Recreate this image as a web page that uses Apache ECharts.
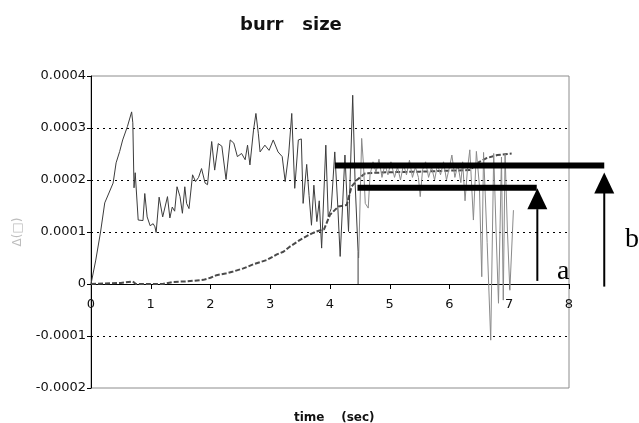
<!DOCTYPE html>
<html>
<head>
<meta charset="utf-8">
<script src="https://cdn.jsdelivr.net/npm/echarts@6/dist/echarts.min.js"></script>
<style>
  html, body { margin: 0; padding: 0; background: #fff; }
  #chart { width: 639px; height: 423px; }
</style>
</head>
<body>
<div id="chart"></div>
<script>
// measured burr signal, first pass (t sec, size)
const burrDark = [
  [0, 0], [0.08, 0.46e-4], [0.16, 1.0e-4], [0.23, 1.56e-4], [0.30, 1.75e-4], [0.37, 1.94e-4],
  [0.42, 2.33e-4], [0.48, 2.55e-4], [0.53, 2.77e-4], [0.61, 3.03e-4], [0.68, 3.31e-4], [0.70, 3.10e-4],
  [0.72, 1.85e-4], [0.74, 2.14e-4], [0.79, 1.23e-4], [0.82, 1.20e-4], [0.87, 1.22e-4], [0.90, 1.74e-4],
  [0.94, 1.29e-4], [0.99, 1.12e-4], [1.04, 1.16e-4], [1.07, 1.10e-4], [1.09, 0.99e-4], [1.14, 1.67e-4],
  [1.20, 1.29e-4], [1.23, 1.27e-4], [1.28, 1.68e-4], [1.32, 1.27e-4], [1.36, 1.48e-4], [1.40, 1.40e-4],
  [1.44, 1.87e-4], [1.49, 1.68e-4], [1.53, 1.36e-4], [1.57, 1.87e-4], [1.60, 1.55e-4], [1.64, 1.45e-4],
  [1.70, 2.10e-4], [1.75, 1.97e-4], [1.80, 2.05e-4], [1.85, 2.22e-4], [1.91, 1.94e-4], [1.95, 1.91e-4],
  [2.02, 2.74e-4], [2.07, 2.19e-4], [2.13, 2.70e-4], [2.19, 2.65e-4], [2.26, 2.01e-4], [2.33, 2.77e-4],
  [2.39, 2.71e-4], [2.45, 2.45e-4], [2.52, 2.51e-4], [2.58, 2.39e-4], [2.62, 2.67e-4], [2.66, 2.29e-4],
  [2.72, 2.96e-4], [2.76, 3.28e-4], [2.80, 2.90e-4], [2.83, 2.54e-4], [2.91, 2.67e-4], [2.98, 2.57e-4],
  [3.05, 2.77e-4], [3.13, 2.54e-4], [3.20, 2.45e-4], [3.25, 1.97e-4], [3.31, 2.52e-4], [3.36, 3.28e-4],
  [3.41, 1.84e-4], [3.47, 2.77e-4], [3.52, 2.79e-4], [3.55, 1.55e-4], [3.61, 2.30e-4], [3.65, 1.70e-4],
  [3.69, 1.13e-4], [3.73, 1.90e-4], [3.78, 1.20e-4], [3.82, 1.60e-4], [3.86, 0.69e-4], [3.93, 2.67e-4],
  [3.97, 1.30e-4], [4.02, 1.45e-4], [4.08, 2.54e-4], [4.13, 1.50e-4], [4.17, 0.53e-4], [4.25, 2.48e-4],
  [4.31, 1.01e-4], [4.38, 3.63e-4], [4.42, 1.95e-4], [4.47, 0.62e-4], [4.47, 0]
];

// second pass, lighter trace
const burrLight = [
  [4.48, 0.50e-4], [4.53, 2.80e-4], [4.56, 2.30e-4], [4.59, 1.55e-4], [4.64, 1.46e-4], [4.67, 2.10e-4],
  [4.72, 2.35e-4], [4.77, 2.15e-4], [4.82, 2.40e-4], [4.87, 2.05e-4], [4.92, 2.30e-4], [4.97, 2.10e-4],
  [5.02, 2.35e-4], [5.08, 2.05e-4], [5.13, 2.25e-4], [5.18, 2.00e-4], [5.23, 2.30e-4], [5.28, 2.10e-4],
  [5.33, 2.38e-4], [5.38, 2.05e-4], [5.43, 2.25e-4], [5.48, 2.05e-4], [5.51, 1.68e-4], [5.55, 2.20e-4],
  [5.60, 2.35e-4], [5.65, 2.05e-4], [5.70, 2.25e-4], [5.75, 2.00e-4], [5.80, 2.30e-4], [5.85, 2.10e-4],
  [5.90, 2.35e-4], [5.95, 2.00e-4], [6.00, 2.25e-4], [6.04, 2.48e-4], [6.09, 2.05e-4], [6.14, 2.30e-4],
  [6.19, 1.95e-4], [6.22, 2.35e-4], [6.26, 1.60e-4], [6.30, 2.20e-4], [6.34, 2.58e-4], [6.40, 1.23e-4],
  [6.45, 2.55e-4], [6.50, 1.90e-4], [6.54, 0.14e-4], [6.57, 2.53e-4], [6.63, 0.80e-4], [6.69, -1.08e-4],
  [6.74, 2.51e-4], [6.78, 1.00e-4], [6.82, -0.37e-4], [6.87, 2.44e-4], [6.90, -0.31e-4], [6.93, 2.50e-4],
  [6.97, 1.00e-4], [7.01, -0.12e-4], [7.07, 1.42e-4]
];

// stepped (averaged) burr size
const burrStep = [
  [0, 0], [0.5, 0.02e-4], [0.7, 0.05e-4], [0.75, 0], [1.2, 0], [1.37, 0.04e-4], [1.6, 0.05e-4],
  [1.88, 0.08e-4], [2.0, 0.12e-4], [2.10, 0.17e-4], [2.25, 0.20e-4], [2.38, 0.24e-4], [2.55, 0.30e-4],
  [2.72, 0.38e-4], [2.94, 0.46e-4], [3.11, 0.57e-4], [3.22, 0.62e-4], [3.33, 0.72e-4], [3.50, 0.85e-4],
  [3.69, 0.97e-4], [3.80, 1.02e-4], [3.90, 1.05e-4], [4.00, 1.33e-4], [4.14, 1.49e-4], [4.28, 1.52e-4],
  [4.36, 1.87e-4], [4.45, 2.00e-4], [4.59, 2.13e-4], [5.0, 2.15e-4], [5.5, 2.16e-4], [6.0, 2.18e-4],
  [6.34, 2.19e-4], [6.50, 2.35e-4], [6.62, 2.42e-4], [6.80, 2.48e-4], [7.04, 2.51e-4]
];

// annotation segments [x1, y1, x2, y2, lineWidth]: level bars a / b and arrow shafts
const annotSegs = [
  [4.46, 1.85e-4, 7.46, 1.85e-4, 6],
  [4.08, 2.28e-4, 8.59, 2.28e-4, 6],
  [7.47, 0.06e-4, 7.47, 1.44e-4, 2],
  [8.59, -0.05e-4, 8.59, 1.76e-4, 2]
];
// arrow heads (centre of the triangle)
const arrowHeads = [[7.47, 1.64e-4], [8.59, 1.94e-4]];

const xTicks = { min: 0, max: 8, step: 1 };
const yTicks = { min: -0.0002, max: 0.0004, step: 0.0001 };

const gridBox = { left: 91, right: 70, top: 76, bottom: 35 };
// onZero does not kick in here, so shift the x axis up to the zero line by hand
const plotH = 423 - gridBox.top - gridBox.bottom;
const zeroShift = plotH * (0 - yTicks.min) / (yTicks.max - yTicks.min);

const chart = echarts.init(document.getElementById('chart'), null, { renderer: 'canvas' });

const option = {
  animation: false,
  backgroundColor: '#fff',
  title: [
    {
      text: 'burr   size',
      left: 235,
      top: 11,
      textStyle: { fontFamily: 'DejaVu Sans', fontWeight: 'bold', fontSize: 18, color: '#111' }
    },
    {
      text: 'time    (sec)',
      left: 289,
      top: 407,
      textStyle: { fontFamily: 'DejaVu Sans', fontWeight: 'bold', fontSize: 12, color: '#111' }
    }
  ],
  grid: Object.assign({ show: true, borderColor: '#8c8c8c', borderWidth: 1 }, gridBox),
  xAxis: {
    type: 'value',
    position: 'bottom',
    offset: -zeroShift,
    min: xTicks.min, max: xTicks.max, interval: xTicks.step,
    axisLine: { show: true, onZero: false, lineStyle: { color: '#000', width: 1 } },
    axisTick: { length: 5, lineStyle: { color: '#000' } },
    axisLabel: { margin: 14, fontFamily: 'DejaVu Sans', fontSize: 13, color: '#111' },
    splitLine: { show: false }
  },
  yAxis: {
    type: 'value',
    min: yTicks.min, max: yTicks.max, interval: yTicks.step,
    name: 'Δ(□)',
    nameLocation: 'middle',
    nameGap: 67,
    nameTextStyle: { fontFamily: 'DejaVu Sans', fontSize: 12, color: '#bdbdbd' },
    axisLine: { show: true, onZero: false, lineStyle: { color: '#000', width: 1 } },
    axisTick: { show: true, length: 4, lineStyle: { color: '#000' } },
    axisLabel: {
      margin: 5, fontFamily: 'DejaVu Sans', fontSize: 13, color: '#111',
      formatter: function (v) { return Math.abs(v) < 1e-12 ? '0' : v.toFixed(4); }
    },
    splitLine: {
      show: true, showMinLine: false, showMaxLine: false,
      lineStyle: { color: '#000', width: 1, type: [2, 4] }
    }
  },
  graphic: [
    { type: 'text', left: 557, top: 258, style: { text: 'a', font: '28px "Liberation Serif", serif', fill: '#000' } },
    { type: 'text', left: 625, top: 226, style: { text: 'b', font: '28px "Liberation Serif", serif', fill: '#000' } }
  ],
  series: [
    {
      type: 'line', data: burrStep, symbol: 'none', z: 2,
      lineStyle: { color: '#4a4a4a', width: 2, type: [5, 2] }
    },
    {
      type: 'line', data: burrLight, symbol: 'none', z: 3,
      lineStyle: { color: '#8a8a8a', width: 1 }
    },
    {
      type: 'line', data: burrDark, symbol: 'none', z: 3,
      lineStyle: { color: '#3c3c3c', width: 1 }
    },
    {
      type: 'custom', data: annotSegs, clip: false, silent: true, z: 5,
      renderItem: function (params, api) {
        const p1 = api.coord([api.value(0), api.value(1)]);
        const p2 = api.coord([api.value(2), api.value(3)]);
        return {
          type: 'line',
          shape: { x1: p1[0], y1: p1[1], x2: p2[0], y2: p2[1] },
          style: { stroke: '#000', lineWidth: api.value(4), lineCap: 'butt' }
        };
      }
    },
    {
      type: 'scatter', data: arrowHeads, symbol: 'triangle', symbolSize: [20, 21], clip: false, silent: true, z: 6,
      itemStyle: { color: '#000', opacity: 1 }
    }
  ]
};

chart.setOption(option);
</script>
</body>
</html>
